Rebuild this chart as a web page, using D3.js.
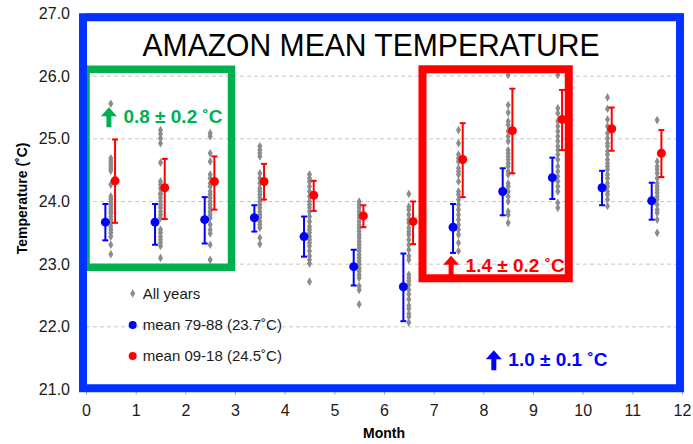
<!DOCTYPE html>
<html>
<head>
<meta charset="utf-8">
<script src="https://cdn.jsdelivr.net/npm/d3@7"></script>
<style>
  body { margin: 0; background: #fff; }
  svg { display: block; font-family: "Liberation Sans", Arial, sans-serif; }
</style>
</head>
<body>
<svg width="693" height="444"></svg>
<script>
'use strict';

// month index 0..11, marks sit inside each unit of the x axis
var months = d3.range(12);
var xTicks = d3.range(0, 13);
var yTicks = [21, 22, 23, 24, 25, 26, 27];

// mean 1979-88 with error bar ends
var blueMean = [23.67, 23.67, 23.71, 23.74, 23.44, 22.96, 22.64, 23.59, 24.16, 24.38, 24.22, 24.01];
var blueLo   = [23.38, 23.31, 23.33, 23.52, 23.12, 22.66, 22.09, 23.18, 23.78, 24.04, 23.94, 23.71];
var blueHi   = [23.96, 23.96, 24.07, 23.94, 23.76, 23.23, 23.17, 23.96, 24.53, 24.70, 24.49, 24.30];

// mean 2009-18 with error bar ends
var redMean = [24.33, 24.22, 24.32, 24.32, 24.10, 23.77, 23.68, 24.67, 25.13, 25.31, 25.16, 24.77];
var redLo   = [23.66, 23.72, 23.87, 24.03, 23.85, 23.59, 23.32, 24.07, 24.45, 24.82, 24.81, 24.39];
var redHi   = [24.99, 24.68, 24.72, 24.60, 24.33, 23.94, 24.00, 25.25, 25.80, 25.78, 25.50, 25.14];

// all years
var allYears = [
    [25.56, 24.69, 24.65, 24.61, 24.57, 24.53, 24.49, 24.27, 24.08, 24.04, 24.00, 23.96, 23.92, 23.88, 23.84, 23.81, 23.76, 23.71, 23.66, 23.60, 23.55, 23.50, 23.44, 23.31, 23.16],
    [25.14, 25.08, 25.01, 24.93, 24.62, 24.32, 24.27, 24.21, 24.13, 24.11, 24.06, 24.00, 23.95, 23.90, 23.84, 23.79, 23.74, 23.55, 23.50, 23.44, 23.39, 23.34, 23.29, 23.10],
    [25.09, 25.04, 24.77, 24.64, 24.43, 24.37, 24.29, 24.24, 24.16, 24.11, 24.06, 24.00, 23.95, 23.90, 23.84, 23.79, 23.74, 23.63, 23.55, 23.49, 23.31, 23.07],
    [24.88, 24.82, 24.77, 24.72, 24.45, 24.37, 24.29, 24.21, 24.16, 24.11, 24.06, 24.00, 23.95, 23.90, 23.84, 23.79, 23.74, 23.68, 23.63, 23.58, 23.42, 23.32],
    [24.43, 24.37, 24.32, 24.24, 24.16, 24.08, 24.00, 23.95, 23.90, 23.84, 23.76, 23.68, 23.60, 23.55, 23.50, 23.44, 23.39, 23.34, 23.29, 23.21, 23.13, 23.07, 23.01, 22.72],
    [24.00, 23.95, 23.90, 23.84, 23.79, 23.74, 23.68, 23.63, 23.58, 23.52, 23.47, 23.42, 23.36, 23.31, 23.26, 23.21, 23.15, 23.10, 23.05, 23.00, 22.94, 22.89, 22.83, 22.78, 22.65, 22.59, 22.36],
    [24.12, 23.92, 23.87, 23.79, 23.71, 23.66, 23.58, 23.52, 23.47, 23.39, 23.31, 23.23, 23.13, 23.07, 22.83, 22.78, 22.73, 22.67, 22.59, 22.52, 22.44, 22.34, 22.29, 22.21, 22.16, 22.07],
    [25.14, 24.93, 24.75, 24.69, 24.64, 24.53, 24.48, 24.43, 24.32, 24.16, 24.11, 24.03, 23.95, 23.87, 23.79, 23.71, 23.63, 23.55, 23.47, 23.34, 23.21],
    [26.02, 25.54, 25.42, 25.28, 25.22, 25.12, 25.04, 24.96, 24.82, 24.77, 24.72, 24.67, 24.61, 24.56, 24.48, 24.43, 24.29, 24.24, 24.16, 24.08, 24.00, 23.84, 23.79, 23.66],
    [26.02, 25.49, 25.41, 25.28, 25.20, 25.12, 25.04, 24.96, 24.88, 24.82, 24.75, 24.67, 24.56, 24.48, 24.40, 24.32, 24.24, 24.16, 23.98, 23.90],
    [25.66, 25.48, 25.31, 25.20, 25.09, 25.01, 24.93, 24.88, 24.80, 24.75, 24.67, 24.61, 24.56, 24.51, 24.43, 24.37, 24.29, 24.24, 24.16, 24.11, 24.03, 23.93],
    [25.30, 24.64, 24.56, 24.51, 24.45, 24.37, 24.29, 24.24, 24.19, 24.14, 24.08, 24.03, 23.95, 23.87, 23.82, 23.71, 23.50]
];

// annotation boxes and labels in data units
var greenBox = {x0: 0.0, x1: 2.93, y0: 22.95, y1: 26.11};
var redBox = {x0: 6.775, x1: 9.72, y0: 22.775, y1: 26.11};
var blueBox = {x0: -0.06, x1: 11.96, y0: 21.02, y1: 26.94};
var labels = [
    {text: '0.8 \u00b1 0.2 \u02daC', color: '#00b050', x: 0.30, y: 25.25},
    {text: '1.4 \u00b1 0.2 \u02daC', color: '#ff0000', x: 7.19, y: 22.88},
    {text: '1.0 \u00b1 0.1 \u02daC', color: '#0000ff', x: 8.05, y: 21.37}
];

var margin = {left: 86, top: 13.5},
    width = 596,
    height = 376,
    svg = d3.select('svg'),
    canvas = svg.append('g').attr('transform', 'translate(' + margin.left + ',' + margin.top + ')');

var x = d3.scaleLinear().domain([0, 12]).range([0, width]);
var y = d3.scaleLinear().domain([21, 27]).range([height, 0]);

// grid
canvas.append('g')
    .selectAll('line')
    .data(yTicks.slice(1, -1))
    .enter().append('line')
    .attr('x1', 0).attr('x2', width)
    .attr('y1', function(d) { return y(d); })
    .attr('y2', function(d) { return y(d); })
    .attr('stroke', '#c8c8c8')
    .attr('stroke-dasharray', '4,3');

// frame
canvas.append('rect')
    .attr('width', width).attr('height', height)
    .attr('fill', 'none').attr('stroke', '#999');

// x axis
var xAxis = canvas.append('g')
    .attr('transform', 'translate(0,' + height + ')')
    .call(d3.axisBottom(x).tickValues(xTicks).tickFormat(d3.format('d')).tickSize(5).tickPadding(10));
xAxis.select('.domain').remove();
xAxis.selectAll('line').attr('stroke', '#999');
xAxis.selectAll('text').attr('font-size', 16).attr('fill', '#1a1a1a')
    .attr('font-family', '"Liberation Sans", Arial, sans-serif');

// y axis
var yAxis = canvas.append('g')
    .call(d3.axisLeft(y).tickValues(yTicks).tickFormat(d3.format('.1f')).tickSize(0).tickPadding(16));
yAxis.select('.domain').remove();
yAxis.selectAll('text').attr('font-size', 16).attr('fill', '#1a1a1a')
    .attr('font-family', '"Liberation Sans", Arial, sans-serif');

svg.append('text')
    .attr('transform', 'translate(27,' + (margin.top + y(24.05)) + ') rotate(-90)')
    .attr('text-anchor', 'middle')
    .attr('font-size', 14).attr('font-weight', 'bold')
    .text('Temperature (\u02daC)');

svg.append('text')
    .attr('x', margin.left + x(6)).attr('y', 438)
    .attr('text-anchor', 'middle')
    .attr('font-size', 14).attr('font-weight', 'bold')
    .text('Month');

// all years
var diamond = d3.symbol().type(d3.symbolDiamond).size(22);
var grayPts = [];
allYears.forEach(function(vals, i) {
    vals.forEach(function(v) { grayPts.push({m: i, v: v}); });
});
canvas.append('g')
    .selectAll('path')
    .data(grayPts)
    .enter().append('path')
    .attr('d', diamond)
    .attr('transform', function(d) { return 'translate(' + x(d.m + 0.5) + ',' + y(d.v) + ')'; })
    .attr('fill', '#8c8c8c');

function meanSeries(mean, lo, hi, off, color) {
    var g = canvas.append('g');
    var bars = g.selectAll('g').data(months).enter().append('g')
        .attr('stroke', color).attr('stroke-width', 2);
    bars.append('line')
        .attr('x1', function(i) { return x(i + off); })
        .attr('x2', function(i) { return x(i + off); })
        .attr('y1', function(i) { return y(lo[i]); })
        .attr('y2', function(i) { return y(hi[i]); });
    [lo, hi].forEach(function(end) {
        bars.append('line')
            .attr('x1', function(i) { return x(i + off) - 3; })
            .attr('x2', function(i) { return x(i + off) + 3; })
            .attr('y1', function(i) { return y(end[i]); })
            .attr('y2', function(i) { return y(end[i]); });
    });
    g.selectAll('circle').data(months).enter().append('circle')
        .attr('cx', function(i) { return x(i + off); })
        .attr('cy', function(i) { return y(mean[i]); })
        .attr('r', 4.5)
        .attr('fill', color);
}
meanSeries(blueMean, blueLo, blueHi, 0.39, '#0000ff');
meanSeries(redMean, redLo, redHi, 0.585, '#ff0000');

// boxes
function box(b, color, w) {
    canvas.append('rect')
        .attr('x', x(b.x0)).attr('y', y(b.y1))
        .attr('width', x(b.x1) - x(b.x0))
        .attr('height', y(b.y0) - y(b.y1))
        .attr('fill', 'none')
        .attr('stroke', color)
        .attr('stroke-width', w);
}
box(greenBox, '#00b050', 7.5);
box(redBox, '#ff0000', 8);
box(blueBox, '#0033ff', 8);

// title
svg.append('text')
    .attr('x', 371).attr('y', 56)
    .attr('text-anchor', 'middle')
    .attr('font-size', 31)
    .attr('textLength', 457).attr('lengthAdjust', 'spacingAndGlyphs')
    .text('AMAZON MEAN TEMPERATURE');

// change labels with up arrows
var arrow = 'M0,-7L8,-16L16,-7L10.5,-7L10.5,4L5.5,4L5.5,-7Z';
labels.forEach(function(l) {
    var g = canvas.append('g')
        .attr('transform', 'translate(' + x(l.x) + ',' + y(l.y) + ')')
        .attr('fill', l.color);
    g.append('path').attr('d', arrow);
    g.append('text')
        .attr('x', 22.5)
        .attr('font-size', 19).attr('font-weight', 'bold')
        .text(l.text);
});

// legend
var legend = svg.append('g').attr('transform', 'translate(132.7,0)');
legend.append('path').attr('d', diamond).attr('transform', 'translate(0,293.5)').attr('fill', '#8c8c8c');
legend.append('circle').attr('cy', 325).attr('r', 4).attr('fill', '#0000ff');
legend.append('circle').attr('cy', 356).attr('r', 4).attr('fill', '#ff0000');
[['All years', 298.5], ['mean 79-88 (23.7\u02daC)', 330], ['mean 09-18 (24.5\u02daC)', 361]].forEach(function(t) {
    legend.append('text')
        .attr('x', 10).attr('y', t[1])
        .attr('font-size', 15).attr('fill', '#1a1a1a')
        .text(t[0]);
});
</script>
</body>
</html>
